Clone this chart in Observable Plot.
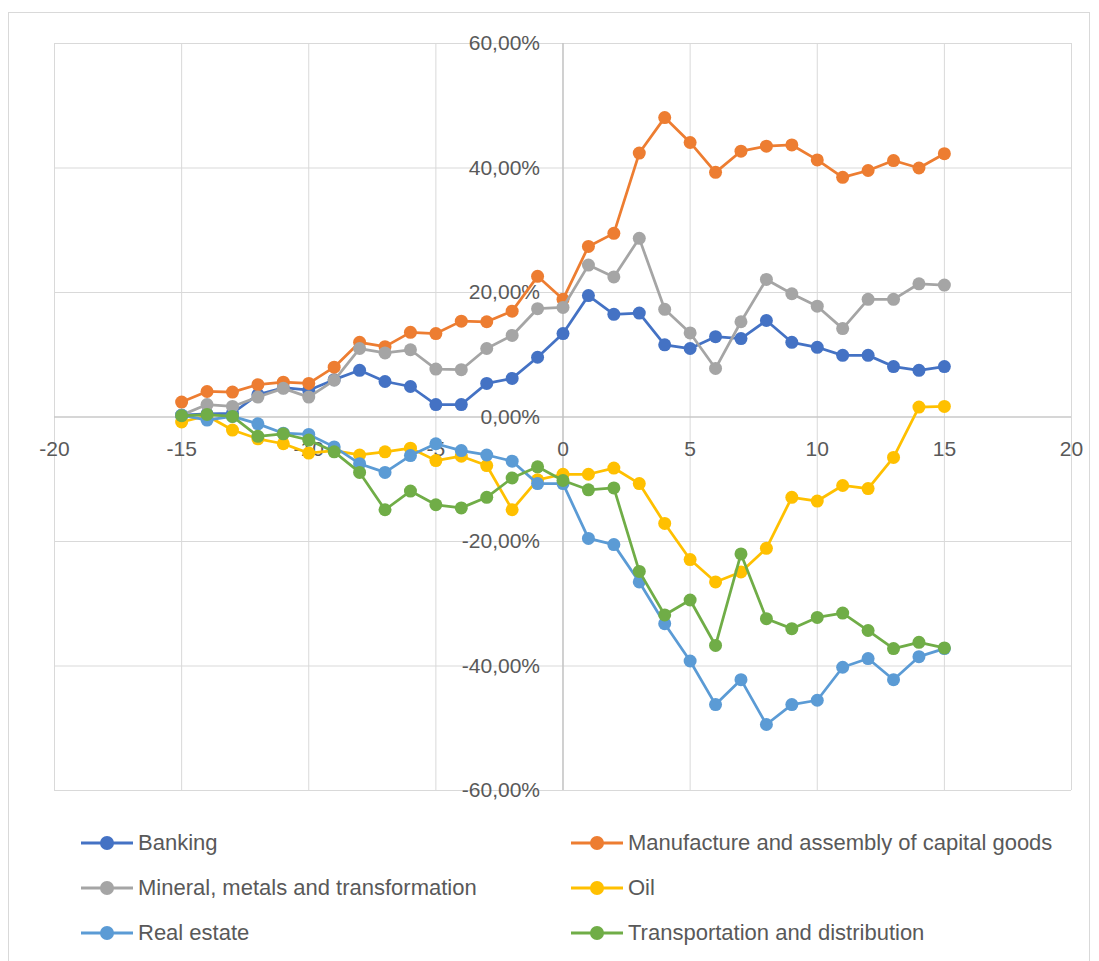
<!DOCTYPE html>
<html>
<head>
<meta charset="utf-8">
<script src="https://cdn.jsdelivr.net/npm/d3@7"></script>
<script src="https://cdn.jsdelivr.net/npm/@observablehq/plot@0.6"></script>
<style>
  body { margin: 0; background: #fff; font-family: "Liberation Sans", Arial, sans-serif; }
  #wrap { position: relative; width: 1099px; height: 961px; overflow: hidden; background: #fff; }
  #border { position: absolute; left: 8px; top: 12px; width: 1082px; height: 970px; border: 1px solid #d9d9d9; box-sizing: border-box; }
  #chart { position: absolute; left: 0; top: 0; }
  .item { position: absolute; display: flex; align-items: center; height: 26px; font-size: 22px; color: #595959; white-space: nowrap; }
  .item svg { margin-right: 4px; }
</style>
</head>
<body>
<div id="wrap">
  <div id="border"></div>
  <div id="chart"></div>
  <div id="legend"></div>
</div>
<script>
// Lag (days) relative to the event
const lags = [-15,-14,-13,-12,-11,-10,-9,-8,-7,-6,-5,-4,-3,-2,-1,0,1,2,3,4,5,6,7,8,9,10,11,12,13,14,15];

// Cumulative returns in percent
const banking = [0.3,0.5,0.6,3.6,4.7,4.3,6.0,7.5,5.7,4.9,2.0,2.0,5.4,6.2,9.6,13.4,19.5,16.5,16.7,11.6,11.0,12.9,12.6,15.5,12.0,11.2,9.9,9.9,8.1,7.5,8.1];
const manufacture = [2.4,4.1,4.0,5.2,5.6,5.4,8.0,12.0,11.3,13.6,13.4,15.4,15.3,17.0,22.6,18.9,27.4,29.5,42.4,48.1,44.1,39.3,42.7,43.5,43.7,41.3,38.5,39.6,41.2,40.0,42.3];
const mineral = [0.3,2.0,1.7,3.2,4.6,3.2,5.9,11.0,10.3,10.8,7.7,7.6,11.0,13.1,17.4,17.6,24.4,22.5,28.7,17.3,13.5,7.8,15.3,22.1,19.8,17.8,14.2,18.9,18.9,21.4,21.2];
const oil = [-0.8,0.2,-2.1,-3.5,-4.3,-5.8,-5.4,-6.1,-5.6,-5.0,-7.0,-6.3,-7.8,-14.9,-10.1,-9.2,-9.2,-8.2,-10.7,-17.1,-22.9,-26.5,-24.9,-21.1,-12.9,-13.5,-11.0,-11.5,-6.5,1.6,1.7];
const realEstate = [0.3,-0.5,0.1,-1.1,-2.6,-2.8,-4.8,-7.5,-8.9,-6.2,-4.3,-5.4,-6.1,-7.1,-10.7,-10.7,-19.5,-20.5,-26.5,-33.2,-39.2,-46.2,-42.2,-49.4,-46.2,-45.5,-40.2,-38.8,-42.2,-38.5,-37.2];
const transport = [0.2,0.4,0.1,-3.1,-2.7,-3.7,-5.6,-8.9,-14.9,-11.9,-14.1,-14.6,-12.9,-9.8,-8.0,-10.2,-11.7,-11.4,-24.8,-31.8,-29.4,-36.7,-22.0,-32.4,-34.0,-32.2,-31.5,-34.3,-37.2,-36.2,-37.1];

const seriesNames = ["Banking","Manufacture and assembly of capital goods","Mineral, metals and transformation","Oil","Real estate","Transportation and distribution"];
const seriesValues = [banking, manufacture, mineral, oil, realEstate, transport];
const seriesColors = ["#4472C4","#ED7D31","#A5A5A5","#FFC000","#5B9BD5","#70AD47"];

const xTicks = [-20,-15,-10,-5,0,5,10,15,20];
const yTicks = [-0.6,-0.4,-0.2,0,0.2,0.4,0.6];
const fmtPct = d => (Math.abs(d) < 1e-9 ? 0 : d * 100).toFixed(2).replace(".", ",") + "%";

const series = seriesNames.map((name, k) => ({
  name,
  color: seriesColors[k],
  rows: lags.map((x, i) => ({ x, y: seriesValues[k][i] / 100 }))
}));

const textColor = "#595959";
const font = "'Liberation Sans', Arial, sans-serif";

const chart = Plot.plot({
  width: 1099,
  height: 820,
  marginLeft: 54,
  marginRight: 28,
  marginTop: 43,
  marginBottom: 30,
  style: { fontFamily: font, background: "transparent" },
  x: { domain: [-20, 20], axis: null },
  y: { domain: [-0.6, 0.6], axis: null },
  marks: [
    Plot.gridX(xTicks, { stroke: "#d9d9d9", strokeOpacity: 1 }),
    Plot.gridY(yTicks, { stroke: "#d9d9d9", strokeOpacity: 1 }),
    Plot.ruleX([0], { stroke: "#bfbfbf", strokeWidth: 1.2 }),
    Plot.ruleY([0], { stroke: "#bfbfbf", strokeWidth: 1.2 }),
    Plot.text(xTicks, { x: d => d, y: 0, dy: 32, text: d => String(d), fill: textColor, fontSize: 21 }),
    Plot.text(yTicks, { x: 0, y: d => d, dx: -23, textAnchor: "end", text: fmtPct, fill: textColor, fontSize: 21 }),
    ...series.flatMap(s => [
      Plot.line(s.rows, { x: "x", y: "y", stroke: s.color, strokeWidth: 2.75 }),
      Plot.dot(s.rows, { x: "x", y: "y", fill: s.color, r: 6.5 })
    ])
  ]
});
document.getElementById("chart").appendChild(chart);

// Legend (HTML below the plot area)
const legend = document.getElementById("legend");
const legendCols = [80, 570];
const legendRows = [843, 888, 933];
series.forEach((s, k) => {
  const div = document.createElement("div");
  div.className = "item";
  div.style.left = legendCols[k % 2] + "px";
  div.style.top = (legendRows[Math.floor(k / 2)] - 13) + "px";
  div.innerHTML = `<svg width="54" height="18"><line x1="1" y1="9" x2="53" y2="9" stroke="${s.color}" stroke-width="3"/><circle cx="27" cy="9" r="7" fill="${s.color}"/></svg><span>${s.name}</span>`;
  legend.appendChild(div);
});
</script>
</body>
</html>
